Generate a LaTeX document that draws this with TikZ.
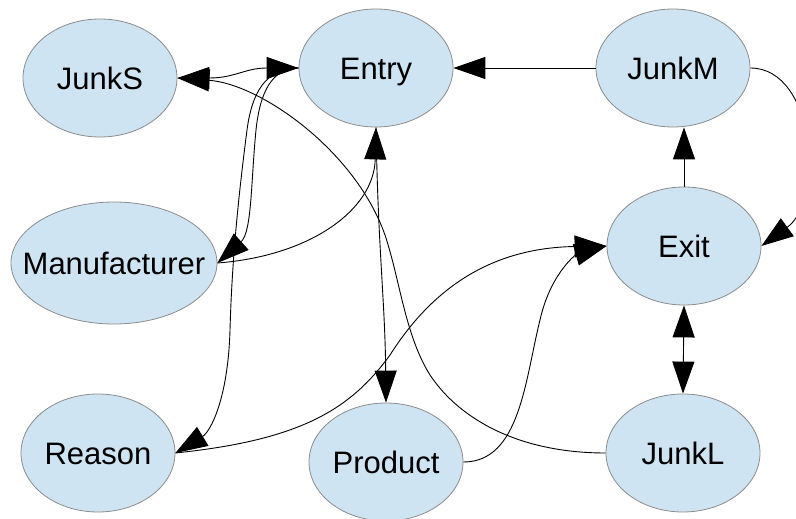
\documentclass[tikz,border=0pt]{standalone}
\usepackage{fontspec}
\setmainfont{Liberation Sans}
\usetikzlibrary{shapes.geometric,arrows.meta}
\definecolor{nodefill}{HTML}{CFE4F3}
\definecolor{nodeline}{HTML}{8C8C8C}
\begin{document}
\begin{tikzpicture}[x=1pt,y=-1pt,
  nodetext/.style={font=\fontsize{31}{31}\selectfont, text height=22.2pt, text depth=0pt},
  state/.style={ellipse, draw=nodeline, line width=0.8pt, fill=nodefill,
    inner sep=0pt, minimum width=154pt, minimum height=118pt, nodetext},
  link/.style={line width=0.9pt, -{Triangle[length=32pt,width=22pt]}},
  both/.style={line width=0.9pt, {Triangle[length=32pt,width=22pt]}-{Triangle[length=32pt,width=22pt]}}
]
\useasboundingbox (0,0) rectangle (796,519);
\clip (0,0) rectangle (796,519);

% states
\node[state] (JunkS) at (100,78) {JunkS};
\node[state] (Entry) at (376,68) {Entry};
\node[state] (JunkM) at (673,68) {JunkM};
\node[state, minimum width=206pt, minimum height=122pt,
  label={[nodetext, inner sep=0pt]center:Manufacturer}] (Manufacturer) at (114,263) {};
\node[state] (Exit) at (684,246) {Exit};
\node[state] (Reason) at (98,453) {Reason};
\node[state] (Product) at (386,462) {Product};
\node[state] (JunkL) at (683,453) {JunkL};

% transitions
\draw[both] (JunkS.east) .. controls (235,78) and (245,68) .. (Entry.west);
\draw[link] (Entry.west) .. controls (272,68) and (260,92) .. (256,130)
  .. controls (251,180) and (252,232) .. (Manufacturer.east);
\draw[link] (Entry.west) .. controls (266,68) and (252,92) .. (247,130)
  .. controls (238,200) and (232,260) .. (230,330)
  .. controls (228,400) and (210,432) .. (Reason.east);
\draw[link] (Manufacturer.east) .. controls (310,256) and (374,210) .. (Entry.south);
\draw[link] (Entry.south) .. controls (378,250) and (385,300) .. (Product.north);
\draw[link] (JunkM.west) -- (Entry.east);
\draw[link] (Exit.north) -- (Exit.north |- JunkM.south);
\draw[both] (Exit.south) -- (JunkL.north);
\draw[link] (JunkM.east) .. controls (815,68) and (825,200) .. (Exit.east);
\draw[link] (Reason.east) .. controls (300,440) and (350,410) .. (390,355)
  .. controls (425,300) and (480,248) .. (Exit.west);
\draw[link] (Product.east) .. controls (520,462) and (525,380) .. (540,320)
  .. controls (550,275) and (575,255) .. (Exit.west);
\draw[link] (JunkL.west) .. controls (520,453) and (460,420) .. (430,375)
  .. controls (405,335) and (400,280) .. (385,235)
  .. controls (355,150) and (260,84) .. (JunkS.east);
\end{tikzpicture}
\end{document}
